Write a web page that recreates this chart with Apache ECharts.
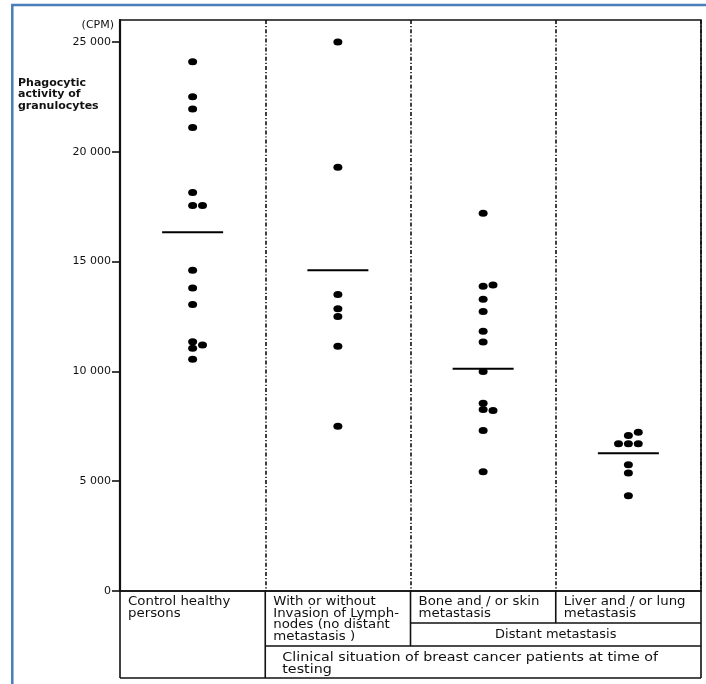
<!DOCTYPE html>
<html lang="en">
<head>
    <meta charset="UTF-8">
    <title>Phagocytic activity of granulocytes</title>
    <script src="https://cdn.jsdelivr.net/npm/echarts@6/dist/echarts.min.js"></script>
    <style>
        html, body { margin: 0; padding: 0; background: #fff; }
        #chart { width: 706px; height: 684px; }
    </style>
</head>
<body>
    <div id="chart"></div>
    <script>
        // column headings of the table under the plot
        var groupNames = [
            'Control healthy\npersons',
            'With or without\nInvasion of Lymph-\nnodes (no distant\nmetastasis )',
            'Bone and / or skin\nmetastasis',
            'Liver and / or lung\nmetastasis'
        ];

        var controlValues = [24100, 22500, 21950, 21100, 18150, 17550, 17550, 14600, 13800, 13050, 11350, 11200, 11050, 10550];
        var lymphValues = [25000, 19300, 13500, 12850, 12500, 11150, 7500];
        var boneSkinValues = [17200, 13880, 13930, 13290, 12730, 11830, 11340, 10000, 8550, 8270, 8220, 7310, 5430];
        var liverLungValues = [7230, 7080, 6700, 6700, 6700, 5750, 5370, 4340];

        // side-by-side position of a dot when values overlap (-1 left, 0 centre, 1 right)
        var controlSide = [0, 0, 0, 0, 0, 0, 1, 0, 0, 0, 0, 1, 0, 0];
        var lymphSide = [0, 0, 0, 0, 0, 0, 0];
        var boneSkinSide = [0, 0, 1, 0, 0, 0, 0, 0, 0, 0, 1, 0, 0];
        var liverLungSide = [1, 0, -1, 0, 1, 0, 0, 0];

        // group means (horizontal bars)
        var groupMeans = [16330, 14610, 10120, 6270];

        var yTicks = [0, 5000, 10000, 15000, 20000, 25000];

        var allValues = [controlValues, lymphValues, boneSkinValues, liverLungValues];
        var allSides = [controlSide, lymphSide, boneSkinSide, liverLungSide];

        // layout
        var W = 706, H = 684;
        var GRID_L = 120, GRID_R = 701, GRID_T = 20, ZERO_Y = 591, TABLE_B = 678;
        var ROW1 = 623, ROW2 = 646;
        var band = (GRID_R - GRID_L) / 4;
        var SIDE_STEP = 0.068;
        var ink = '#111';
        var font = 'DejaVu Sans';

        var dots = [];
        allValues.forEach(function (vals, g) {
            vals.forEach(function (v, i) {
                dots.push([g + 0.5 + allSides[g][i] * SIDE_STEP, v]);
            });
        });
        var means = groupMeans.map(function (m, g) { return [g + 0.5, m]; });

        function thousands(v) {
            return String(v).replace(/\B(?=(\d{3})+(?!\d))/g, ' ');
        }

        function hline(x1, x2, y) {
            return { type: 'line', shape: { x1: x1, y1: y, x2: x2, y2: y }, style: { stroke: ink, lineWidth: 1.6 } };
        }
        function vline(x, y1, y2) {
            return { type: 'line', shape: { x1: x, y1: y1, x2: x, y2: y2 }, style: { stroke: ink, lineWidth: 1.6 } };
        }
        // the scanned lettering is wider than DejaVu, so stretch it a little
        function label(text, x, y, align, stretch) {
            return {
                type: 'text', x: x, y: y, scaleX: stretch || 1.11,
                style: {
                    text: text, fill: ink, font: '12px "' + font + '"',
                    align: align || 'left', verticalAlign: 'top', lineHeight: 11.7
                }
            };
        }

        // table below the axis
        var graphics = [
            // blue page frame
            { type: 'rect', shape: { x: 12.3, y: 5, width: 720, height: 720 }, style: { fill: 'none', stroke: '#4a7ebb', lineWidth: 2.5 }, silent: true },
            vline(GRID_L, ZERO_Y, TABLE_B),
            vline(GRID_R, ZERO_Y, TABLE_B),
            vline(GRID_L + band, ZERO_Y, TABLE_B),
            vline(GRID_L + band * 2, ZERO_Y, ROW2),
            vline(GRID_L + band * 3, ZERO_Y, ROW1),
            hline(GRID_L + band * 2, GRID_R, ROW1),
            hline(GRID_L + band, GRID_R, ROW2),
            hline(GRID_L, GRID_R, TABLE_B),
            label('Distant metastasis', GRID_L + band * 3, 629, 'center', 1.08),
            label('Clinical situation of breast cancer patients at time of\ntesting', GRID_L + band + 17, 652.5, 'left', 1.19),
            {
                type: 'text', x: 18, y: 77,
                style: {
                    text: 'Phagocytic\nactivity of\ngranulocytes', fill: ink,
                    font: 'bold 11px "' + font + '"', lineHeight: 11.5, verticalAlign: 'top'
                }
            }
        ];
        groupNames.forEach(function (name, g) {
            graphics.push(label(name, GRID_L + band * g + 8, 596));
        });

        var myChart = echarts.init(document.getElementById('chart'));
        var option = {
            backgroundColor: '#fff',
            animation: false,
            grid: {
                left: GRID_L, right: W - GRID_R, top: GRID_T, bottom: H - ZERO_Y,
                show: true, borderColor: ink, borderWidth: 1.6
            },
            xAxis: {
                type: 'value', min: 0, max: 4, interval: 1,
                axisLine: { show: true, lineStyle: { color: ink, width: 1.6 } },
                axisTick: { show: false },
                axisLabel: { show: false },
                splitLine: { show: true, lineStyle: { color: ink, width: 1.6, type: [4, 2, 1.2, 2] } }
            },
            yAxis: {
                type: 'value', min: 0, max: 26000,
                name: '(CPM)', nameLocation: 'end', nameGap: -5,
                nameTextStyle: { color: ink, fontFamily: font, fontSize: 11, align: 'right', verticalAlign: 'middle', padding: [0, 6, 0, 0] },
                axisLine: { show: true, lineStyle: { color: ink, width: 2.2 } },
                axisTick: { show: true, inside: false, length: 8, customValues: yTicks, lineStyle: { color: ink, width: 1.6 } },
                axisLabel: { customValues: yTicks, margin: 9, color: ink, fontFamily: font, fontSize: 11, formatter: thousands },
                splitLine: { show: false }
            },
            graphic: graphics,
            series: [
                {
                    name: 'mean', type: 'scatter', symbol: 'rect', symbolSize: [61, 2],
                    itemStyle: { color: '#000', opacity: 1 }, data: means, z: 2
                },
                {
                    name: 'patients', type: 'scatter', symbol: 'circle', symbolSize: [9, 7],
                    itemStyle: { color: '#000', opacity: 1 }, data: dots, z: 3
                }
            ]
        };
        myChart.setOption(option);
    </script>
</body>
</html>
